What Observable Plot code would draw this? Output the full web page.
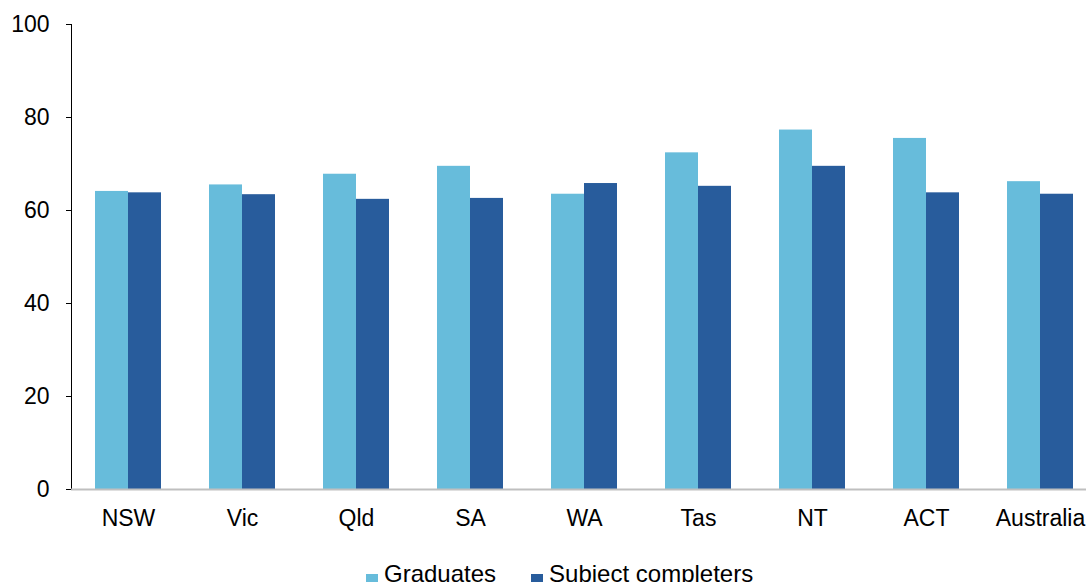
<!DOCTYPE html>
<html>
<head>
<meta charset="utf-8">
<script src="https://cdn.jsdelivr.net/npm/d3@7"></script>
<script src="https://cdn.jsdelivr.net/npm/@observablehq/plot@0.6"></script>
<style>
  html, body { margin: 0; padding: 0; background: #fff; overflow: hidden; }
  #chart svg { display: block; max-width: none !important; }
  #chart g[aria-label^="y-axis"] { stroke: #bfbfbf; }
  #chart g[aria-label="y-axis tick label"] { fill: #000; stroke: none; }
  .legend { font-family: "Liberation Sans", Arial, sans-serif; font-size: 24px; line-height: 27px; color: #000; padding-left: 366px; white-space: nowrap; }
  .legend .sw { display: inline-block; width: 12px; height: 12px; vertical-align: -4px; margin-right: 6px; }
  .legend .item { display: inline-block; margin-right: 35px; }
</style>
</head>
<body>
<div id="chart"></div>
<script>
const categories = ["NSW", "Vic", "Qld", "SA", "WA", "Tas", "NT", "ACT", "Australia"];
const series = ["Graduates", "Subject completers"];
const graduates = [64.1, 65.5, 67.8, 69.5, 63.5, 72.4, 77.3, 75.5, 66.2];
const completers = [63.8, 63.4, 62.4, 62.6, 65.8, 65.2, 69.5, 63.8, 63.5];
const colors = ["#67BCDB", "#285C9C"];
const yTicks = [0, 20, 40, 60, 80, 100];

const data = categories.flatMap((c, i) => [
  {category: c, series: series[0], value: graduates[i]},
  {category: c, series: series[1], value: completers[i]}
]);

const chart = Plot.plot({
  width: 1097,
  height: 560,
  marginLeft: 71,
  marginRight: 0,
  marginTop: 24,
  marginBottom: 71,
  style: {fontFamily: "'Liberation Sans', Arial, sans-serif", fontSize: "23px", color: "#000", background: "white", overflow: "visible"},
  facet: {data, x: "category"},
  fx: {domain: categories, padding: 0, label: null, tickSize: 0, tickPadding: 20},
  x: {domain: series, axis: null, paddingInner: 0, paddingOuter: 0.688},
  y: {domain: [0, 100], ticks: yTicks, tickSize: 5, tickPadding: 17, label: null, line: true},
  color: {domain: series, range: colors},
  marks: [
    Plot.barY(data, {x: "series", y: "value", fill: "series"}),
    Plot.ruleY([0], {stroke: "#bfbfbf", strokeWidth: 2})
  ]
});
document.getElementById("chart").appendChild(chart);

const legend = document.createElement("div");
legend.className = "legend";
series.forEach((s, i) => {
  const item = document.createElement("span");
  item.className = "item";
  const sw = document.createElement("span");
  sw.className = "sw";
  sw.style.background = colors[i];
  item.appendChild(sw);
  item.appendChild(document.createTextNode(s));
  legend.appendChild(item);
});
document.body.appendChild(legend);
</script>
</body>
</html>
